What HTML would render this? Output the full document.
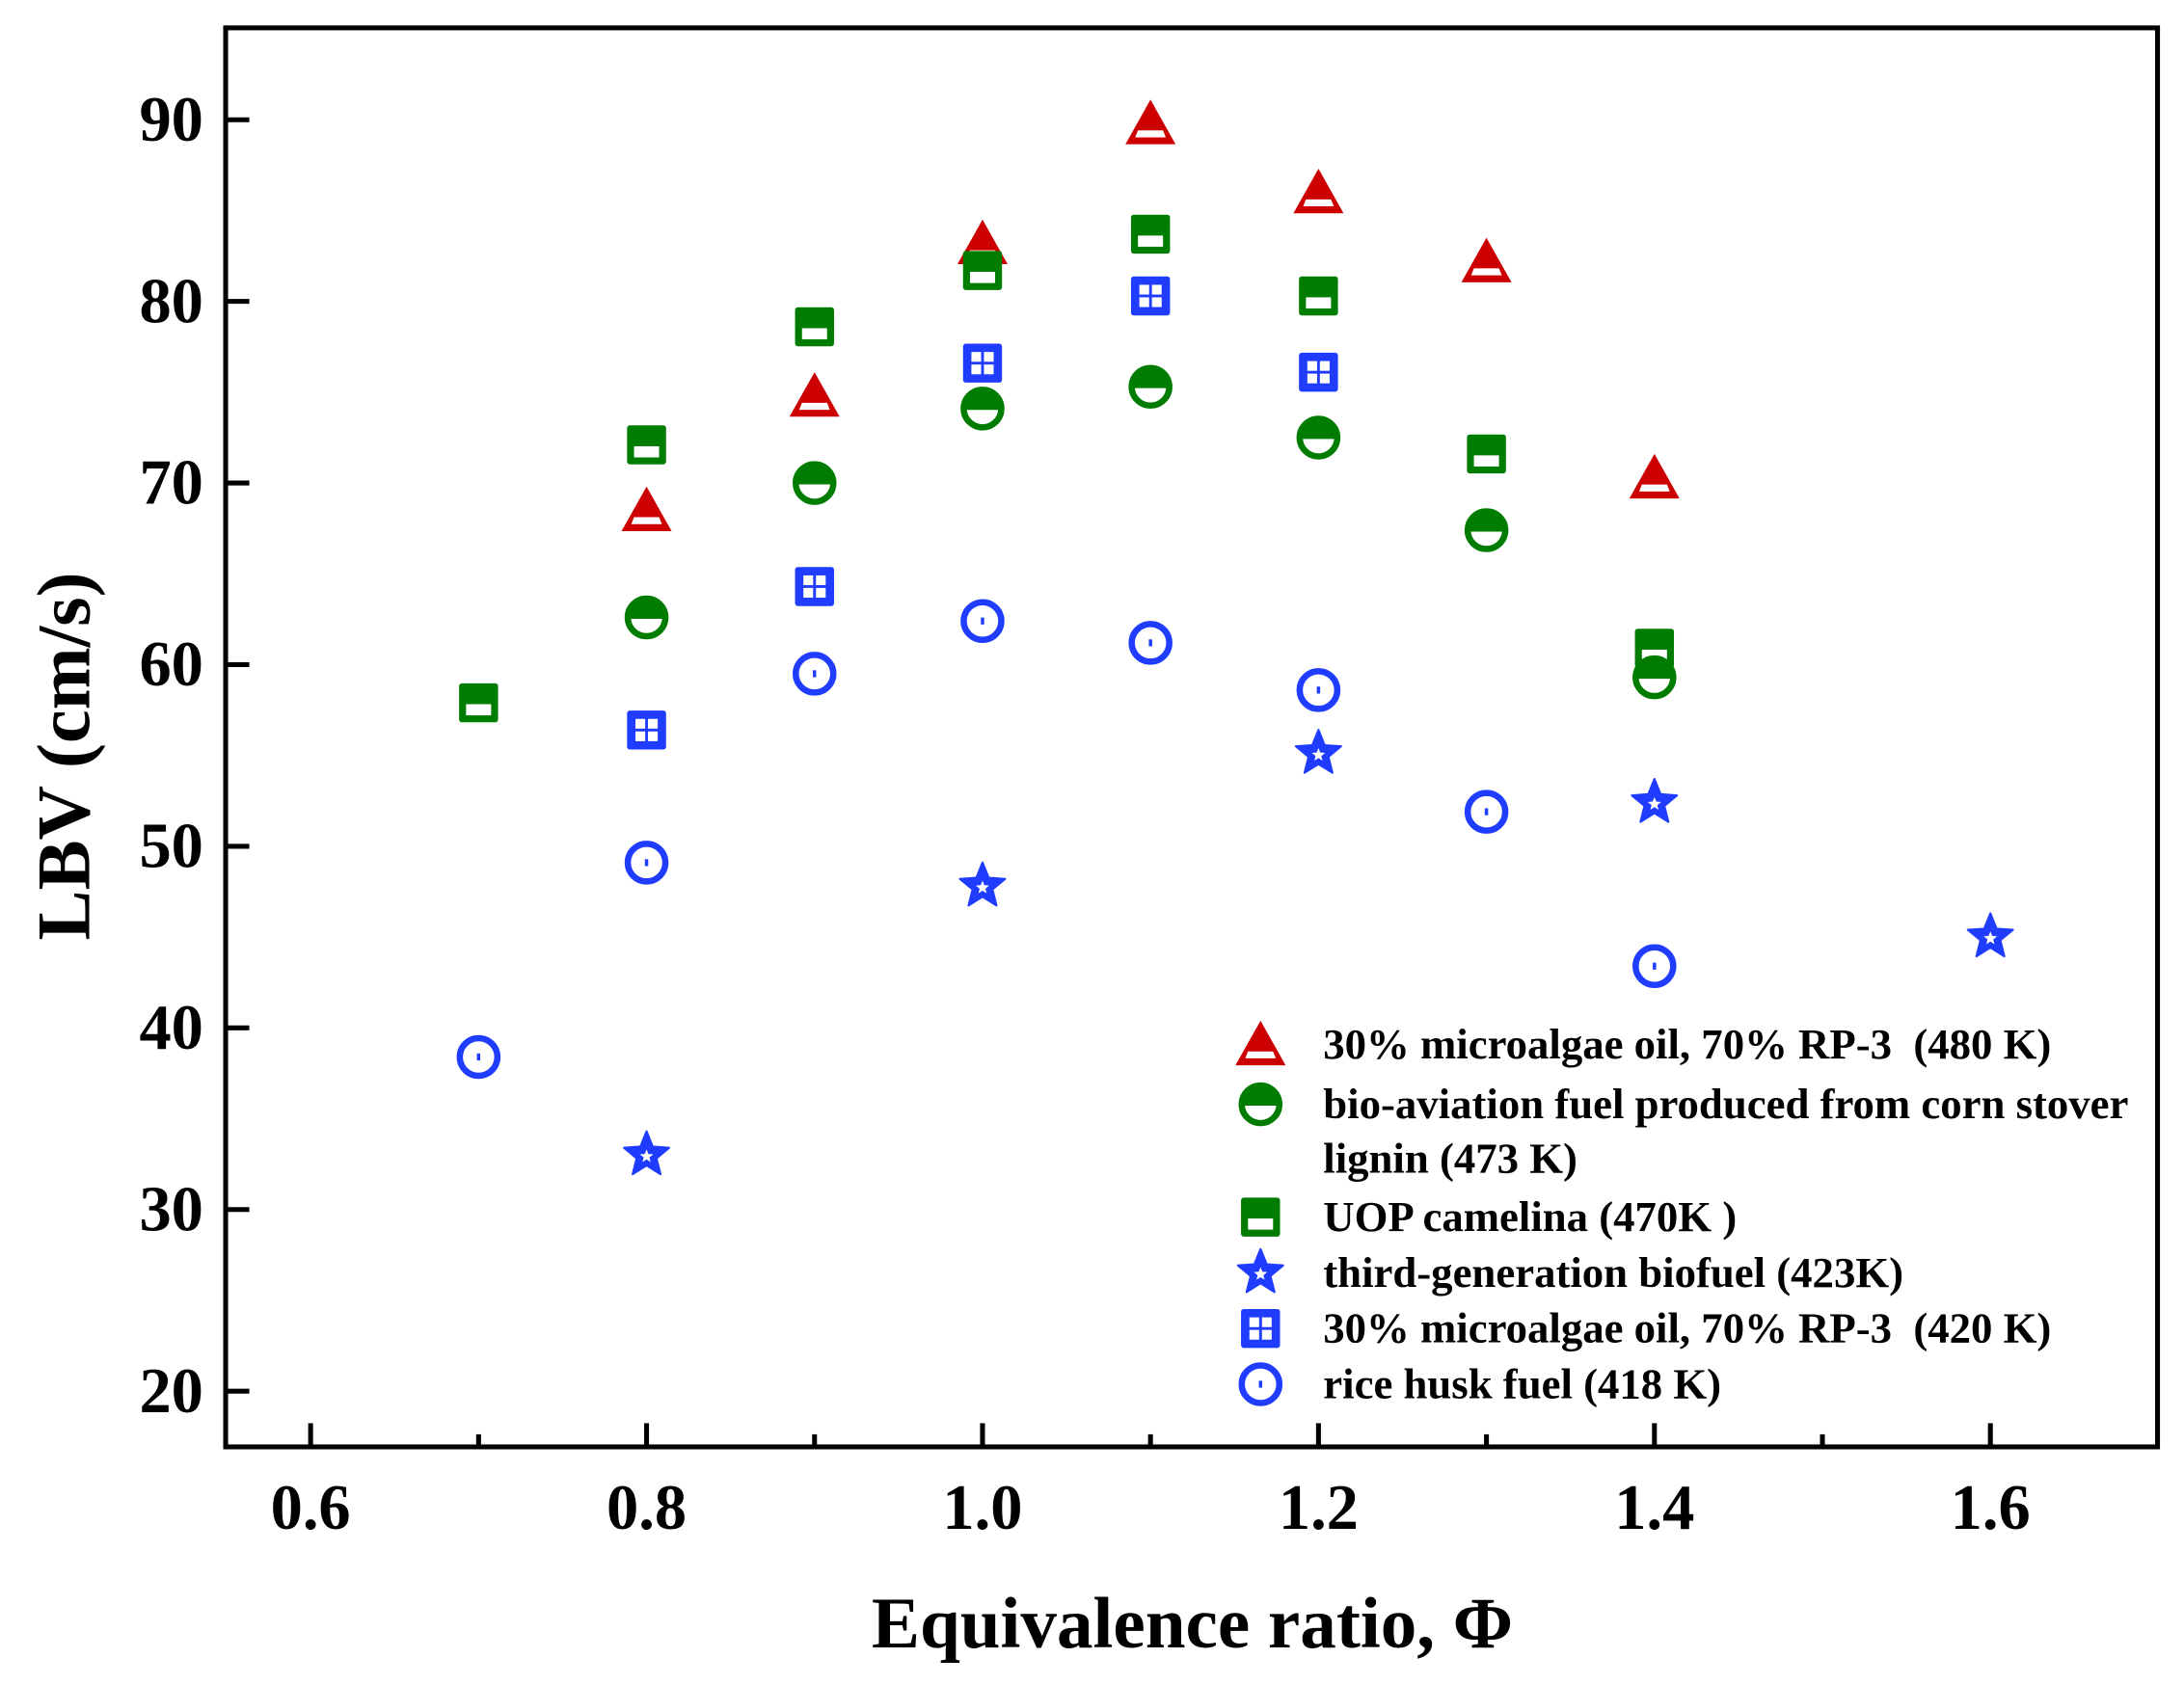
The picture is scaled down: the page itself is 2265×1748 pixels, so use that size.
<!DOCTYPE html>
<html><head><meta charset="utf-8"><style>html,body{margin:0;padding:0;background:#fff}svg{display:block}text{white-space:pre}</style></head>
<body>
<svg id="chart" xmlns="http://www.w3.org/2000/svg" width="2265" height="1748" viewBox="0 0 1568 1210" preserveAspectRatio="none" font-family="'Liberation Serif', serif" font-weight="bold">
<rect x="0" y="0" width="1568" height="1210" fill="#fff"/>
<g id="marks"></g>
<g id="axes"></g>
<rect x="162" y="20" width="1387" height="1019" fill="none" stroke="#000" stroke-width="3.5"/>
<text x="0" y="0" transform="translate(64,543) rotate(-90)" text-anchor="middle" font-size="54">LBV (cm/s)</text>
<text x="856" y="1183" text-anchor="middle" font-size="52">Equivalence ratio, Φ</text>
<g id="legend"></g>
</svg>
<script>
const xTicks = [0.6, 0.8, 1.0, 1.2, 1.4, 1.6];
const xTickLabels = ["0.6", "0.8", "1.0", "1.2", "1.4", "1.6"];
const xMinor = [0.7, 0.9, 1.1, 1.3, 1.5];
const yTicks = [20, 30, 40, 50, 60, 70, 80, 90];
const yTickLabels = ["20", "30", "40", "50", "60", "70", "80", "90"];

const triX = [0.8, 0.9, 1.0, 1.1, 1.2, 1.3, 1.4];
const triY = [68.5, 74.8, 83.2, 89.8, 86.0, 82.2, 70.3];
const gCircX = [0.8, 0.9, 1.0, 1.1, 1.2, 1.3, 1.4];
const gCircY = [62.6, 70.0, 74.1, 75.3, 72.5, 67.4, 59.3];
const gSqX = [0.7, 0.8, 0.9, 1.0, 1.1, 1.2, 1.3, 1.4];
const gSqY = [57.9, 72.1, 78.6, 81.7, 83.7, 80.3, 71.6, 60.9];
const starX = [0.8, 1.0, 1.2, 1.4, 1.6];
const starY = [33.0, 47.8, 55.1, 52.4, 45.0];
const bSqX = [0.8, 0.9, 1.0, 1.1, 1.2];
const bSqY = [56.4, 64.3, 76.6, 80.3, 76.1];
const bCircX = [0.7, 0.8, 0.9, 1.0, 1.1, 1.2, 1.3, 1.4];
const bCircY = [38.4, 49.1, 59.5, 62.4, 61.2, 58.6, 51.9, 43.4];

const NS = "http://www.w3.org/2000/svg";
function sx(v){ return 223 + (v - 0.6) * 1206; }
function sy(v){ return 999 - (v - 20) * 13.043; }
function mk(tag, attrs, parent){
  const e = document.createElementNS(NS, tag);
  for (const k in attrs) e.setAttribute(k, attrs[k]);
  parent.appendChild(e); return e;
}
const RED="#cc0000", GREEN="#007d00", BLUE="#1f3cff";

function drawMarker(type, cx, cy, parent){
  const g = mk("g", {}, parent);
  if (type==="tri"){
    mk("polygon",{points:`${cx},${cy-17} ${cx+18},${cy+15} ${cx-18},${cy+15}`,fill:RED,"stroke-linejoin":"round"},g);
    mk("polygon",{points:`${cx-11},${cy+10} ${cx+11},${cy+10} ${cx+9},${cy+5} ${cx-9},${cy+5}`,fill:"#fff"},g);
  } else if (type==="gcirc"){
    mk("circle",{cx:cx,cy:cy,r:13.5,fill:"#fff",stroke:GREEN,"stroke-width":4.5},g);
    mk("path",{d:`M${cx-15.5},${cy+1} A15.5,15.5 0 0 1 ${cx+15.5},${cy+1} Z`,fill:GREEN},g);
  } else if (type==="gsq"){
    mk("rect",{x:cx-14,y:cy-14,width:28,height:28,rx:2,fill:GREEN},g);
    mk("rect",{x:cx-9,y:cy+1,width:18,height:8,fill:"#fff"},g);
  } else if (type==="bsq"){
    mk("rect",{x:cx-14,y:cy-14,width:28,height:28,rx:2,fill:BLUE},g);
    const s=7;
    [[-8,-8],[1,-8],[-8,1],[1,1]].forEach(p=>mk("rect",{x:cx+p[0],y:cy+p[1],width:s,height:s,fill:"#fff"},g));
  } else if (type==="star"){
    let pts=[];
    for(let i=0;i<10;i++){const r=i%2?7.5:17;const a=-Math.PI/2+i*Math.PI/5;pts.push((cx+r*Math.cos(a)).toFixed(1)+","+(cy+r*Math.sin(a)).toFixed(1));}
    mk("polygon",{points:pts.join(" "),fill:BLUE,"stroke-linejoin":"round",stroke:BLUE,"stroke-width":1.5},g);
    let p2=[];
    for(let i=0;i<10;i++){const r=i%2?2.2:5;const a=-Math.PI/2+i*Math.PI/5;p2.push((cx+r*Math.cos(a)).toFixed(1)+","+(cy+1+r*Math.sin(a)).toFixed(1));}
    mk("polygon",{points:p2.join(" "),fill:"#fff"},g);
  } else if (type==="bcirc"){
    mk("circle",{cx:cx,cy:cy,r:13.5,fill:"#fff",stroke:BLUE,"stroke-width":4.5},g);
    mk("rect",{x:cx-1.2,y:cy-2.5,width:2.4,height:5,fill:BLUE},g);
  }
  return g;
}

const marks = document.getElementById("marks");
const series = [
  ["tri", triX, triY, "series-triangle-480k"],
  ["gsq", gSqX, gSqY, "series-uop-camelina"],
  ["gcirc", gCircX, gCircY, "series-corn-stover"],
  ["bsq", bSqX, bSqY, "series-microalgae-420k"],
  ["star", starX, starY, "series-third-gen"],
  ["bcirc", bCircX, bCircY, "series-rice-husk"]
];
series.forEach(s=>{
  const g = mk("g",{},marks);
  
  
  s[1].forEach((x,i)=>{
    const m = drawMarker(s[0], sx(x), sy(s[2][i]), g);
    
    
  });
});

const axes = document.getElementById("axes");
xTicks.forEach((v,i)=>{
  const t = mk("line",{x1:sx(v),x2:sx(v),y1:1039,y2:1022,stroke:"#000","stroke-width":3.5},axes);
  
  
  const l = mk("text",{x:sx(v),y:1098,"text-anchor":"middle","font-size":46},axes);
  l.textContent = xTickLabels[i];
  
  
});
xMinor.forEach(v=>{
  const t = mk("line",{x1:sx(v),x2:sx(v),y1:1039,y2:1030,stroke:"#000","stroke-width":3.5},axes);
  
  
});
yTicks.forEach((v,i)=>{
  const t = mk("line",{x1:162,x2:179,y1:sy(v),y2:sy(v),stroke:"#000","stroke-width":3.5},axes);
  
  
  const l = mk("text",{x:146,y:sy(v)+15,"text-anchor":"end","font-size":46},axes);
  l.textContent = yTickLabels[i];
  
  
});

const legend = document.getElementById("legend");


const legTypes = ["tri","gcirc","gsq","star","bsq","bcirc"];
const legLabels = ["30% microalgae oil, 70% RP-3  (480 K)","bio-aviation fuel produced from corn stover","UOP camelina (470K )","third-generation biofuel (423K)","30% microalgae oil, 70% RP-3  (420 K)","rice husk fuel (418 K)"];
const legY = [750, 793, 874, 914, 954, 994];
legTypes.forEach((t,i)=>{
  const m = drawMarker(t, 905, legY[i], legend);
  
  
  const tx = mk("text",{x:950,y:legY[i]+10,"font-size":31},legend);
  tx.textContent = legLabels[i];
  
  
});
const extra = mk("text",{x:950,y:842,"font-size":31},legend);
extra.textContent = "lignin (473 K)";


</script>
</body></html>
